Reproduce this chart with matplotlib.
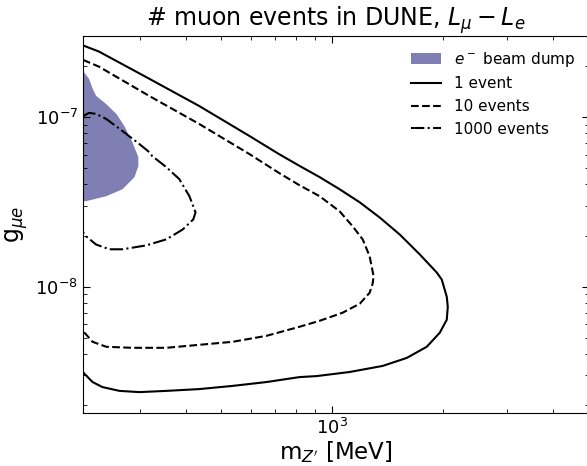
import numpy as np
import matplotlib
matplotlib.use("Agg")
import matplotlib.pyplot as plt
from matplotlib.ticker import NullFormatter

# contours: m_Z' [MeV], g_mue
one_x = [210, 232, 318, 435, 596, 719, 815, 925, 1048, 1189, 1346, 1527, 1731, 1927, 1988,
         2051, 2064, 2051, 1963, 1809, 1596, 1373, 1116, 907, 815, 663, 536, 435, 354, 299,
         264, 237, 223, 212, 210]
one_y = [2.64e-7, 2.43e-7, 1.68e-7, 1.16e-7, 7.72e-8, 6.02e-8, 5.15e-8, 4.42e-8, 3.75e-8,
         3.14e-8, 2.56e-8, 2.03e-8, 1.55e-8, 1.21e-8, 1.10e-8, 8.72e-9, 7.61e-9, 6.38e-9,
         5.35e-9, 4.42e-9, 3.80e-9, 3.41e-9, 3.14e-9, 2.97e-9, 2.93e-9, 2.74e-9, 2.60e-9,
         2.49e-9, 2.43e-9, 2.39e-9, 2.43e-9, 2.56e-9, 2.74e-9, 3.06e-9, 3.14e-9]

ten_x = [210, 232, 318, 435, 596, 719, 815, 925, 1048, 1137, 1211, 1265, 1297, 1289, 1265,
         1189, 1068, 925, 815, 663, 536, 435, 354, 286, 243, 223, 212, 210]
ten_y = [2.17e-7, 1.98e-7, 1.33e-7, 9.09e-8, 6.04e-8, 4.66e-8, 3.96e-8, 3.41e-8, 2.78e-8,
         2.27e-8, 1.90e-8, 1.51e-8, 1.15e-8, 1.04e-8, 9.20e-9, 7.93e-9, 7.02e-9, 6.29e-9,
         5.80e-9, 5.13e-9, 4.73e-9, 4.54e-9, 4.36e-9, 4.36e-9, 4.42e-9, 4.73e-9, 5.35e-9, 5.45e-9]

thousand_x = [210, 218, 228, 243, 269, 299, 318, 324, 354, 384, 409, 422, 425, 419, 392,
              354, 312, 269, 248, 228, 214, 210]
thousand_y = [1.01e-7, 1.057e-7, 1.042e-7, 9.73e-8, 8.26e-8, 6.92e-8, 6.21e-8, 5.88e-8, 5.06e-8,
              4.30e-8, 3.41e-8, 2.86e-8, 2.74e-8, 2.49e-8, 2.17e-8, 1.90e-8, 1.75e-8, 1.66e-8,
              1.66e-8, 1.77e-8, 1.98e-8, 2.09e-8]

# e- beam dump excluded region
dump_x = [200, 210, 218, 223, 228, 243, 259, 272, 286, 297, 297, 290, 269, 243, 214, 210, 200]
dump_y = [1.87e-7, 1.87e-7, 1.68e-7, 1.47e-7, 1.33e-7, 1.19e-7, 1.04e-7, 8.85e-8, 7.12e-8, 5.8e-8,
          5.13e-8, 4.42e-8, 3.75e-8, 3.41e-8, 3.19e-8, 3.19e-8, 3.19e-8]

fig = plt.figure(figsize=(5.87, 4.66), dpi=100)
ax = fig.add_axes([83 / 587, 53 / 466, 506 / 587, 377 / 466])

ax.fill(dump_x, dump_y, color='#7f7fb4', lw=0, label=r'$e^-$ beam dump')
ax.plot(one_x, one_y, color='black', ls='-', lw=1.5, label='1 event')
ax.plot(ten_x, ten_y, color='black', ls='--', lw=1.5, label='10 events')
ax.plot(thousand_x, thousand_y, color='black', ls='-.', lw=1.5, label='1000 events')

ax.set_xscale('log')
ax.set_yscale('log')
ax.set_xlim(210, 5000)
ax.set_ylim(1.8e-9, 3e-7)
ax.xaxis.set_minor_formatter(NullFormatter())
ax.yaxis.set_minor_formatter(NullFormatter())
ax.tick_params(which='both', direction='in', top=True, right=True, labelsize=13)
ax.tick_params(which='major', length=5)
ax.tick_params(which='minor', length=3)

ax.set_xlabel(r"m$_{Z'}$ [MeV]", fontsize=16.5, labelpad=1)
ax.set_ylabel(r"g$_{\mu e}$", fontsize=17)
ax.set_title(r"# muon events in DUNE, $L_\mu - L_e$", fontsize=17)
ax.legend(loc='upper right', frameon=False, fontsize=11)

fig.savefig('out.png', dpi=100)
